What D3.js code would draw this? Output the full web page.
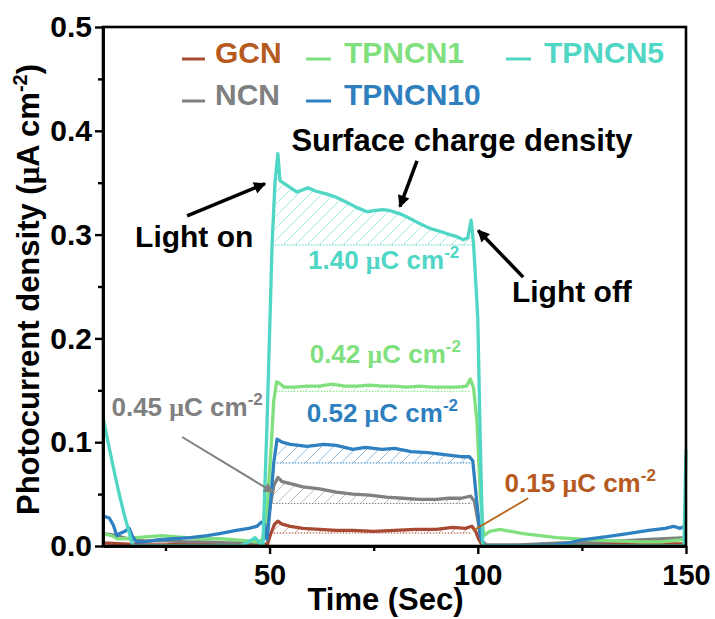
<!DOCTYPE html>
<html>
<head>
<meta charset="utf-8">
<script src="https://cdn.jsdelivr.net/npm/d3@7"></script>
<style>
body { margin: 0; background: #fff; }
text { font-family: "Liberation Sans", Arial, sans-serif; font-weight: bold; }
</style>
</head>
<body>
<div id="chart"></div>
<script>
//photocurrent, time in sec, current in uA cm-2
var gcnTime = [10, 15, 20, 25, 30, 35, 40, 45, 48, 49.5, 50.3, 51.2, 52, 53, 55, 58, 62, 66, 70, 75, 80, 85, 90, 94, 97, 98.6, 99.5, 100.3, 101.2, 105, 115, 125, 135, 145, 150];
var gcnVal = [0.003, 0.002, 0.001, 0.001, 0.002, 0.002, 0.001, 0.001, 0.001, 0.002, 0.012, 0.021, 0.024, 0.021, 0.019, 0.017, 0.016, 0.015, 0.015, 0.014, 0.015, 0.016, 0.016, 0.018, 0.017, 0.019, 0.014, 0.006, 0.0, 0.0, 0.001, 0.001, 0.002, 0.002, 0.002];

var ncnTime = [10, 12, 14, 16, 18, 20, 25, 30, 35, 40, 45, 48, 49, 50, 51, 52, 53, 55, 58, 62, 66, 70, 74, 78, 82, 86, 90, 93, 96, 98.3, 99.2, 100, 100.8, 102, 110, 120, 130, 140, 145, 150];
var ncnVal = [0.012, 0.011, 0.009, 0.007, 0.006, 0.005, 0.005, 0.004, 0.004, 0.003, 0.003, 0.003, 0.01, 0.035, 0.058, 0.066, 0.062, 0.06, 0.057, 0.055, 0.052, 0.05, 0.049, 0.047, 0.046, 0.045, 0.045, 0.046, 0.046, 0.048, 0.043, 0.025, 0.006, 0.001, 0.001, 0.003, 0.004, 0.006, 0.007, 0.008];

var tpncn1Time = [10, 12, 13.5, 15, 18, 21, 24, 27, 30, 34, 38, 42, 45, 47, 48.3, 49.3, 50.3, 51, 51.7, 52.3, 53.5, 56, 59, 62, 65, 68, 71, 74, 77, 80, 83, 86, 89, 92, 95, 97.3, 98.2, 99, 99.8, 100.6, 101.4, 102.9, 105.3, 108, 110.9, 115, 119, 123, 127, 133, 139, 144, 148.6, 150];
var tpncn1Val = [0.012, 0.01, 0.007, 0.007, 0.008, 0.009, 0.01, 0.009, 0.008, 0.007, 0.007, 0.006, 0.005, 0.004, 0.006, 0.03, 0.09, 0.14, 0.158, 0.157, 0.153, 0.153, 0.154, 0.154, 0.156, 0.154, 0.154, 0.155, 0.154, 0.154, 0.153, 0.154, 0.153, 0.153, 0.153, 0.154, 0.161, 0.152, 0.12, 0.05, 0.01, 0.014, 0.016, 0.014, 0.012, 0.01, 0.008, 0.007, 0.006, 0.005, 0.004, 0.004, 0.006, 0.007];

var tpncn5Time = [10, 11, 12, 13, 14, 15, 16, 17.2, 20, 30, 40, 43, 45, 46.5, 47.8, 48.4, 49.4, 50.6, 51.3, 52, 52.5, 54, 56.6, 59.2, 61, 63.8, 66, 68.6, 71, 73.4, 75, 77.2, 79, 81.3, 83, 85.4, 88.5, 91, 93.3, 95, 96.5, 97.6, 98.4, 99, 100, 100.6, 101.2, 105, 120, 135, 149.5, 150];
var tpncn5Val = [0.125, 0.104, 0.085, 0.066, 0.048, 0.032, 0.017, 0.0, 0.0, 0.0, 0.0, 0.0, 0.004, 0.008, 0.002, 0.0, 0.12, 0.29, 0.35, 0.378, 0.352, 0.348, 0.341, 0.345, 0.342, 0.339, 0.336, 0.331, 0.326, 0.322, 0.323, 0.324, 0.323, 0.32, 0.317, 0.312, 0.306, 0.303, 0.3, 0.298, 0.295, 0.297, 0.314, 0.29, 0.22, 0.1, 0.0, 0.0, 0.0, 0.0, 0.0, 0.093];

var tpncn10Time = [10, 11.5, 12.5, 13.3, 14, 15.2, 16.3, 17, 18, 20, 23, 27, 31, 35, 38, 42, 45, 47, 48, 48.7, 49.4, 50.2, 51, 51.8, 53, 55, 57, 59, 61, 63, 66, 70, 73, 77, 80, 84, 88, 92, 96, 98, 98.8, 99.7, 100.6, 101.5, 110, 118, 122, 125, 131, 136, 141, 145, 147, 148.6, 150];
var tpncn10Val = [0.029, 0.027, 0.02, 0.01, 0.012, 0.014, 0.017, 0.01, 0.004, 0.004, 0.006, 0.007, 0.008, 0.01, 0.012, 0.015, 0.017, 0.019, 0.023, 0.021, 0.006, 0.04, 0.08, 0.103, 0.1, 0.098, 0.097, 0.096, 0.097, 0.098, 0.097, 0.093, 0.095, 0.093, 0.094, 0.091, 0.09, 0.088, 0.086, 0.086, 0.082, 0.045, 0.01, 0.0, 0.0, 0.001, 0.003, 0.006, 0.009, 0.012, 0.015, 0.017, 0.019, 0.017, 0.02];

//charge integration: window and baseline of each hatched area
var seriesNames = ["GCN", "NCN", "TPNCN1", "TPNCN10", "TPNCN5"];
var hatchStart = [51, 50.8, 51.5, 51.7, 51.3];
var hatchEnd = [98.6, 98.5, 98.2, 98.6, 98.6];
var hatchBase = [0.0125, 0.041, 0.149, 0.08, 0.29];
var chargeLabels = ["0.15", "0.45", "0.42", "0.52", "1.40"];

var xTicks = [50, 100, 150];
var xMinor = [25, 75, 125];
var yTicks = [0, 0.1, 0.2, 0.3, 0.4, 0.5];
var yMinor = [0.05, 0.15, 0.25, 0.35, 0.45];

var colors = {GCN: "#a84a33", NCN: "#808080", TPNCN1: "#80e07e", TPNCN10: "#2f80c0", TPNCN5: "#4fd6c4"};
var textColors = {GCN: "#b65a1f", NCN: "#808080", TPNCN1: "#80e07e", TPNCN10: "#2f7fbf", TPNCN5: "#4fd6c4"};

var series = [
    {name: "GCN", t: gcnTime, v: gcnVal},
    {name: "NCN", t: ncnTime, v: ncnVal},
    {name: "TPNCN1", t: tpncn1Time, v: tpncn1Val},
    {name: "TPNCN10", t: tpncn10Time, v: tpncn10Val},
    {name: "TPNCN5", t: tpncn5Time, v: tpncn5Val}
];
series.forEach(function(s, i){
    s.points = s.t.map(function(t, j){ return [t, s.v[j]]; });
    s.h0 = hatchStart[i]; s.h1 = hatchEnd[i]; s.base = hatchBase[i];
    s.color = colors[s.name];
});

var svg = d3.select("#chart").append("svg")
    .attr("width", 715)
    .attr("height", 619);

var x = d3.scaleLinear().domain([10, 150]).range([103, 686]);
var y = d3.scaleLinear().domain([0, 0.5]).range([546, 27]);

var defs = svg.append("defs");
defs.append("clipPath").attr("id", "plot-clip")
    .append("rect")
    .attr("x", x(10)).attr("y", y(0.5) - 2)
    .attr("width", x(150) - x(10) + 2).attr("height", y(0) - y(0.5) + 2);

//hatch pattern per series
series.forEach(function(s){
    defs.append("pattern")
        .attr("id", "hatch-" + s.name)
        .attr("patternUnits", "userSpaceOnUse")
        .attr("width", 12).attr("height", 12)
        .append("path")
        .attr("d", "M-2,2 L2,-2 M0,12 L12,0 M10,14 L14,10")
        .attr("stroke", s.color)
        .attr("stroke-opacity", 0.75)
        .attr("stroke-width", 0.7);
});

function arrowMarker(id, color, w, h){
    defs.append("marker")
        .attr("id", id)
        .attr("viewBox", "0 0 10 10")
        .attr("refX", 9).attr("refY", 5)
        .attr("markerUnits", "userSpaceOnUse")
        .attr("markerWidth", w).attr("markerHeight", h)
        .attr("orient", "auto")
        .append("path")
        .attr("d", "M0,0 L10,5 L0,10 z")
        .attr("fill", color);
}
arrowMarker("arrow-black", "#000", 20, 12);
arrowMarker("arrow-gray", "#808080", 15, 10);

var plot = svg.append("g").attr("clip-path", "url(#plot-clip)");

//hatched charge areas with dotted baselines
var area = d3.area()
    .x(function(d){ return x(d[0]); })
    .y0(function(d){ return y(d[2]); })
    .y1(function(d){ return y(Math.max(d[1], d[2])); });

series.forEach(function(s){
    var pts = s.points.filter(function(p){ return p[0] >= s.h0 && p[0] <= s.h1; })
        .map(function(p){ return [p[0], p[1], s.base]; });
    plot.append("path")
        .attr("d", area(pts))
        .attr("fill", "url(#hatch-" + s.name + ")")
        .attr("stroke", "none");
    plot.append("line")
        .attr("x1", x(s.h0)).attr("x2", x(s.h1))
        .attr("y1", y(s.base)).attr("y2", y(s.base))
        .attr("stroke", s.color)
        .attr("stroke-width", 1)
        .attr("stroke-dasharray", "1.5,1.5");
});

var line = d3.line()
    .x(function(d){ return x(d[0]); })
    .y(function(d){ return y(d[1]); });

plot.selectAll(".series")
    .data(series)
    .enter()
    .append("path")
    .attr("class", "series")
    .attr("d", function(d){ return line(d.points); })
    .attr("fill", "none")
    .attr("stroke", function(d){ return d.color; })
    .attr("stroke-width", 3.3)
    .attr("stroke-linejoin", "round");

//axes
svg.append("g")
    .attr("class", "x-axis")
    .attr("transform", "translate(0," + y(0) + ")")
    .call(d3.axisBottom(x).tickValues(xTicks).tickSize(8).tickSizeOuter(0).tickPadding(10).tickFormat(d3.format("d")));
svg.append("g")
    .attr("transform", "translate(0," + y(0) + ")")
    .call(d3.axisBottom(x).tickValues(xMinor).tickSize(5).tickSizeOuter(0).tickFormat(""));
svg.append("g")
    .attr("class", "y-axis")
    .attr("transform", "translate(" + x(10) + ",0)")
    .call(d3.axisLeft(y).tickValues(yTicks).tickSize(8).tickSizeOuter(0).tickPadding(3).tickFormat(d3.format(".1f")));
svg.append("g")
    .attr("transform", "translate(" + x(10) + ",0)")
    .call(d3.axisLeft(y).tickValues(yMinor).tickSize(5).tickSizeOuter(0).tickFormat(""));

svg.selectAll(".domain").attr("stroke", "#000").attr("stroke-width", 2.6);
svg.selectAll(".tick line").attr("stroke", "#000").attr("stroke-width", 2.4);
svg.selectAll(".tick text")
    .attr("fill", "#000")
    .style("font-size", "30px")
    .style("font-family", "'Liberation Sans', Arial, sans-serif")
    .style("font-weight", "bold");
svg.selectAll(".x-axis .tick text").style("font-size", "29px");

//box frame
svg.append("rect")
    .attr("x", x(10)).attr("y", y(0.5))
    .attr("width", x(150) - x(10)).attr("height", y(0) - y(0.5))
    .attr("fill", "none")
    .attr("stroke", "#000")
    .attr("stroke-width", 2.6);

//axis titles
svg.append("text")
    .attr("x", (x(10) + x(150)) / 2 - 9)
    .attr("y", 610)
    .attr("text-anchor", "middle")
    .attr("font-size", 31)
    .text("Time (Sec)");

var yTitle = svg.append("text")
    .attr("transform", "translate(39," + ((y(0) + y(0.5)) / 2 + 3) + ") rotate(-90)")
    .attr("text-anchor", "middle")
    .attr("font-size", 31);
yTitle.append("tspan").text("Photocurrent density (");
yTitle.append("tspan").attr("font-family", "'Liberation Serif', serif").text("\u03bc");
yTitle.append("tspan").text("A cm");
yTitle.append("tspan").attr("font-size", 20).attr("dy", -12).text("-2");
yTitle.append("tspan").attr("dy", 12).text(")");

//legend
var legendPos = {GCN: [182, 63], TPNCN1: [306, 63], TPNCN5: [506, 63], NCN: [182, 105], TPNCN10: [306, 105]};
var legend = svg.selectAll(".legend")
    .data(series)
    .enter()
    .append("g")
    .attr("class", "legend")
    .attr("transform", function(d){ return "translate(" + legendPos[d.name][0] + "," + legendPos[d.name][1] + ")"; });
legend.append("line")
    .attr("x1", 0).attr("x2", function(d){ return d.name === "GCN" || d.name === "NCN" ? 23 : 25; })
    .attr("y1", -4).attr("y2", -4)
    .attr("stroke", function(d){ return d.color; })
    .attr("stroke-width", 3);
legend.append("text")
    .attr("x", function(d){ return d.name === "GCN" || d.name === "NCN" ? 33 : 38; })
    .attr("font-size", 30)
    .attr("fill", function(d){ return textColors[d.name]; })
    .text(function(d){ return d.name; });

//annotations
function chargeText(name, label, t, v){
    var el = svg.append("text")
        .attr("x", x(t)).attr("y", y(v))
        .attr("text-anchor", "middle")
        .attr("font-size", 26)
        .attr("fill", textColors[name]);
    el.append("tspan").text(label + " ");
    el.append("tspan").attr("font-family", "'Liberation Serif', serif").text("\u03bc");
    el.append("tspan").text("C cm");
    el.append("tspan").attr("font-size", 17).attr("dy", -11).text("-2");
}
chargeText("TPNCN5", chargeLabels[4], 77.4, 0.267);
chargeText("TPNCN1", chargeLabels[2], 77.8, 0.176);
chargeText("TPNCN10", chargeLabels[3], 77.1, 0.119);
chargeText("NCN", chargeLabels[1], 30.2, 0.125);
chargeText("GCN", chargeLabels[0], 124.6, 0.052);

svg.append("text")
    .attr("x", x(96.2)).attr("y", y(0.381))
    .attr("text-anchor", "middle")
    .attr("font-size", 31)
    .text("Surface charge density");
svg.append("text")
    .attr("x", x(17.7)).attr("y", y(0.288))
    .attr("font-size", 30)
    .text("Light on");
svg.append("text")
    .attr("x", x(108.2)).attr("y", y(0.235))
    .attr("font-size", 30)
    .text("Light off");

function arrow(t0, v0, t1, v1, color, marker, w){
    svg.append("line")
        .attr("x1", x(t0)).attr("y1", y(v0))
        .attr("x2", x(t1)).attr("y2", y(v1))
        .attr("stroke", color)
        .attr("stroke-width", w)
        .attr("marker-end", marker ? "url(#" + marker + ")" : null);
}
arrow(85.4, 0.371, 81.3, 0.327, "#000", "arrow-black", 3.5);
arrow(30.2, 0.318, 48.9, 0.349, "#000", "arrow-black", 3.5);
arrow(110.9, 0.259, 100.1, 0.304, "#000", "arrow-black", 3.5);
arrow(29.0, 0.105, 50.8, 0.052, "#808080", "arrow-gray", 2);
arrow(112.1, 0.046, 98.9, 0.015, "#b8651d", null, 1.8);
</script>
</body>
</html>
